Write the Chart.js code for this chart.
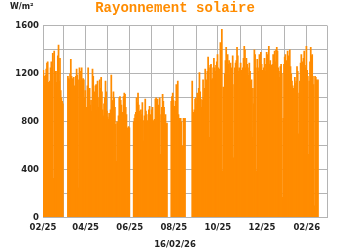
<!DOCTYPE html>
<html>
<head>
<meta charset="utf-8">
<script src="https://cdn.jsdelivr.net/npm/chart.js@4/dist/chart.umd.min.js"></script>
<style>
  html, body { margin: 0; padding: 0; background: #fff; }
</style>
</head>
<body>
<canvas id="chart" width="350" height="250"></canvas>
<script>
// Data: daily values (W/m²), one array per run of days without gaps
const originDate = "2025-02-01";
const segStarts = ["2025-02-01", "2025-03-07", "2025-06-06", "2025-07-28", "2025-08-26"];
const seg1 = [1230,1180,1100,1190,1240,1290,1300,1130,1080,1140,1250,1300,1200,1370,330,1390,780,1220,1130,1220,1350,1440,1140,1330,1060,1000,970,950];
const seg2 = [1180,1160,1150,1200,1320,1180,1160,1120,1170,1100,1080,1180,1240,1190,1150,250,1250,1140,1220,1250,1150,1160,1150,1000,1060,400,920,1100,1250,1000,1080,940,980,890,1240,1180,970,1050,1100,1110,900,1140,920,1000,1150,1080,1170,
  1050,900,850,950,1000,1140,1050,890,840,820,870,830,900,1190,980,970,1050,1000,920,780,470,800,790,850,1000,1010,980,940,880,820,1010,1040,1030,920,860,750,740,760,750];
const seg3 = [800,830,860,880,1000,960,1040,940,890,820,900,860,960,810,640,850,990,890,860,810,280,900,930,860,830,900,920,810,790,820,990,1000,970,990,
  940,860,1000,530,860,920,1030,970,920,830,860,780,790];
const seg4 = [970,1010,1040,980,930,920,970,1110,970,1140,860,830,810,830,800,320,600,830,820,830];
const seg5 = [1140,850,880,900,990,1000,950,1040,1000,1080,1210,1050,990,920,980,1150,1000,1080,1240,1100,1150,1220,1340,1250,670,1270,1280,1150,1160,1250,1330,1250,1220,1270,1300,1360,
  1250,530,1240,1460,1030,1570,390,1090,1060,1200,1310,1420,1220,1360,1280,1310,1190,1290,1250,1240,1350,500,1110,1250,1290,1310,1420,1350,1220,1250,1080,1290,1230,1190,1250,1330,1430,1400,1250,1330,1280,1250,1190,1290,1220,1140,1150,670,1080,950,1400,1360,1250,390,1320,1250,1220,1360,1300,1380,1280,1230,1190,1250,1330,1220,1280,1380,1360,1350,1430,1280,1310,1250,1270,
  1280,1360,1330,1390,1300,1400,1420,1390,1250,1220,1170,1260,1280,1200,170,830,1280,1340,1360,1310,1300,1390,1350,1340,1400,1260,1200,1140,1100,1080,250,1170,1120,1140,1260,1220,700,1040,1140,1290,1360,1220,1300,1330,1390,1270,1250,1430,1230,1180,530,1140,1300,1420,1350,1360,1180,1110,100,1180,1170,1150,1140,1150];
const segments = [seg1, seg2, seg3, seg4, seg5];

// x axis: first of each month, labels every second month
const monthTicks = ["2025-02-01","2025-03-01","2025-04-01","2025-05-01","2025-06-01","2025-07-01","2025-08-01","2025-09-01","2025-10-01","2025-11-01","2025-12-01","2026-01-01","2026-02-01","2026-03-01"];
const tickLabels = ["02/25","","04/25","","06/25","","08/25","","10/25","","12/25","","02/26",""];
const yTicks = [0, 400, 800, 1200, 1600];

const chartTitle = "Rayonnement solaire";
const unitLabel = "W/m²";
const dateLabel = "16/02/26";

const orange = "#ff8c00";
const gridColor = "#b4b4b4";
const titleFont = "'Liberation Mono', 'DejaVu Sans Mono', monospace";
const labelFont = "'DejaVu Sans', Verdana, sans-serif";

function dayIndex(s) {
    return (Date.parse(s + "T00:00:00Z") - Date.parse(originDate + "T00:00:00Z")) / 86400000;
}

var points = [];
segments.forEach(function(seg, k) {
    var start = dayIndex(segStarts[k]);
    seg.forEach(function(v, i) {
        points.push({x: start + i + 0.5, y: v});
    });
});
const monthDays = monthTicks.map(dayIndex);

const textPlugin = {
    id: "texts",
    afterDraw(chart) {
        const ctx = chart.ctx;
        ctx.save();
        ctx.textBaseline = "middle";
        ctx.textAlign = "center";
        ctx.fillStyle = orange;
        ctx.font = "bold 14px " + titleFont;
        ctx.fillText(chartTitle, 175, 8.5);
        ctx.fillStyle = "#222";
        ctx.font = "bold 8.5px " + labelFont;
        ctx.fillText(dateLabel, 175, 244.5);
        ctx.textAlign = "left";
        ctx.font = "bold 8px " + labelFont;
        ctx.fillText(unitLabel, 10, 7);
        ctx.restore();
    }
};

new Chart(document.getElementById("chart"), {
    type: "bar",
    data: {
        datasets: [{
            data: points,
            backgroundColor: orange,
            borderWidth: 0,
            barPercentage: 2.4,
            categoryPercentage: 1
        }]
    },
    options: {
        responsive: false,
        animation: false,
        devicePixelRatio: 1,
        layout: { padding: { top: 25.5, right: 23, left: 0, bottom: 0 } },
        plugins: { legend: { display: false }, tooltip: { enabled: false }, title: { display: false } },
        scales: {
            x: {
                type: "linear",
                offset: false,
                min: 0,
                max: monthDays[monthDays.length - 1],
                afterBuildTicks: function(scale) {
                    scale.ticks = monthDays.map(function(v) { return {value: v}; });
                },
                afterFit: function(scale) { scale.height = 32.5; },
                grid: { color: gridColor, drawTicks: false, offset: false, lineWidth: 1 },
                border: { color: gridColor },
                ticks: {
                    autoSkip: false,
                    maxRotation: 0,
                    padding: 5,
                    color: "#222",
                    font: { family: labelFont, size: 8.5, weight: "bold" },
                    callback: function(v, i) { return tickLabels[i]; }
                }
            },
            y: {
                min: 0,
                max: 1600,
                afterFit: function(scale) { scale.width = 43; },
                grid: { color: gridColor, drawTicks: false },
                border: { color: gridColor },
                ticks: {
                    stepSize: 200,
                    padding: 4,
                    color: "#222",
                    font: { family: labelFont, size: 8.5, weight: "bold" },
                    callback: function(v) { return yTicks.indexOf(v) >= 0 ? v : ""; }
                }
            }
        }
    },
    plugins: [textPlugin]
});
</script>
</body>
</html>
